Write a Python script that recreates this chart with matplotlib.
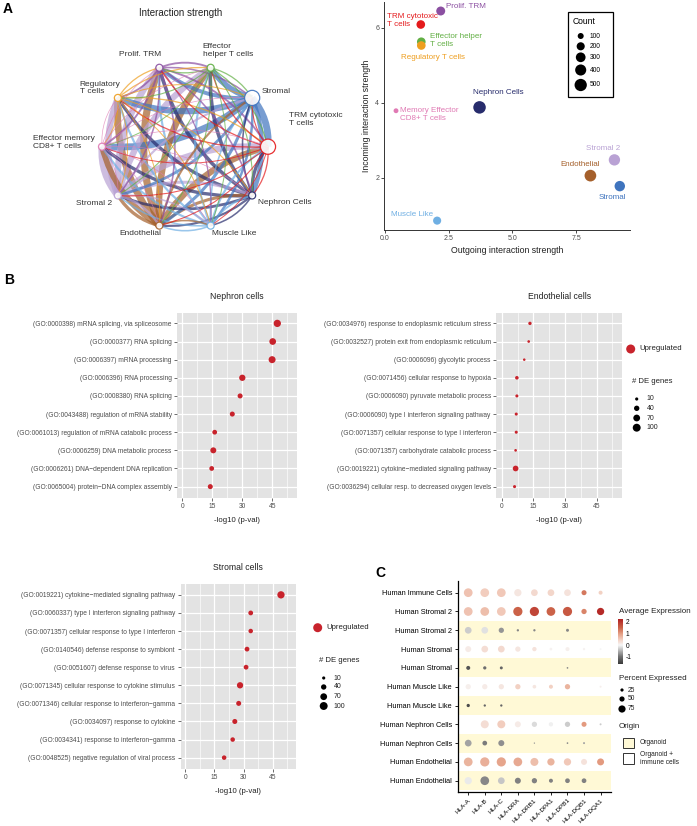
import numpy as np
import matplotlib.pyplot as plt
from matplotlib.path import Path
from matplotlib.patches import PathPatch, Circle, Rectangle
from matplotlib.colors import LinearSegmentedColormap, Normalize
from matplotlib.cm import ScalarMappable

plt.rcParams['font.family'] = ['Liberation Sans', 'DejaVu Sans']
plt.rcParams['axes.unicode_minus'] = False

W, H = 697, 826
fig = plt.figure(figsize=(W / 100, H / 100), dpi=100)


def px_axes(l, t, r, b):
    return fig.add_axes([l / W, 1 - b / H, (r - l) / W, (b - t) / H])


# -----------------------
# A) circle plot (CellChat-like), groups counter-clockwise from 3 o'clock
# -----------------------
circle_groups = ['TRM cytotoxic\nT cells', 'Stromal', 'Effector\nhelper T cells', 'Prolif. TRM',
                 'Regulatory\nT cells', 'Effector memory\nCD8+ T cells', 'Stromal 2',
                 'Endothelial', 'Muscle Like', 'Nephron Cells']
circle_colors = ['#E41A1C', '#3F74BE', '#62AF44', '#8B4FA1', '#EE9E1F',
                 '#E07AB4', '#B9A2D4', '#A5602B', '#6FAFE3', '#272C6C']
circle_size = [560, 560, 120, 120, 120, 120, 120, 120, 120, 120]
# interaction strength, row = sender, column = receiver
strength = [
    [0, .12, .15, .15, .15, .10, .12, .12, .10, .15],
    [1.1, 0, .90, .60, 1.0, 1.1, .40, .45, .35, .70],
    [.15, .15, 0, .15, .12, .10, .12, .12, .10, .12],
    [.25, .20, .25, 0, .25, .25, .20, .20, .15, .20],
    [.15, .12, .15, .15, 0, .12, .10, .10, .10, .12],
    [.05, .05, .05, .05, .05, 0, .05, .05, .05, .05],
    [1.0, .30, 1.0, 1.05, 1.0, 1.1, 0, .35, .20, .45],
    [1.0, .30, 1.05, 1.15, 1.1, .90, .50, 0, .20, .45],
    [.30, .20, .30, .30, .30, .30, .20, .20, 0, .25],
    [.50, .20, .55, .55, .50, .50, .40, .30, .20, 0],
]

# A) scatter: outgoing vs incoming strength
sc_names = ['Prolif. TRM', 'TRM cytotoxic\nT cells', 'Effector helper\nT cells', 'Regulatory T cells',
            'Nephron Cells', 'Memory Effector\nCD8+ T cells', 'Stromal 2', 'Endothelial', 'Stromal', 'Muscle Like']
sc_colors = ['#8B4FA1', '#E41A1C', '#62AF44', '#EE9E1F', '#272C6C',
             '#E07AB4', '#B9A2D4', '#A5602B', '#3F74BE', '#6FAFE3']
outgoing = [2.19, 1.41, 1.43, 1.43, 3.71, 0.44, 8.99, 8.05, 9.20, 2.05]
incoming = [6.45, 6.09, 5.63, 5.53, 3.88, 3.79, 2.48, 2.06, 1.78, 0.86]
count = [250, 230, 230, 230, 520, 60, 420, 450, 350, 200]
count_breaks = [100, 200, 300, 400, 500]

# B) GO enrichment
neph_terms = ['(GO:0000398) mRNA splicing, via spliceosome', '(GO:0000377) RNA splicing',
              '(GO:0006397) mRNA processing', '(GO:0006396) RNA processing', '(GO:0008380) RNA splicing',
              '(GO:0043488) regulation of mRNA stability', '(GO:0061013) regulation of mRNA catabolic process',
              '(GO:0006259) DNA metabolic process', '(GO:0006261) DNA\u2212dependent DNA replication',
              '(GO:0065004) protein\u2212DNA complex assembly']
neph_p = [47.5, 45.2, 44.9, 30.0, 28.9, 25.0, 16.2, 15.5, 14.7, 14.0]
neph_n = [83, 68, 75, 59, 34, 34, 30, 52, 30, 34]

endo_terms = ['(GO:0034976) response to endoplasmic reticulum stress',
              '(GO:0032527) protein exit from endoplasmic reticulum', '(GO:0006096) glycolytic process',
              '(GO:0071456) cellular response to hypoxia', '(GO:0006090) pyruvate metabolic process',
              '(GO:0006090) type I interferon signaling pathway', '(GO:0071357) cellular response to type I interferon',
              '(GO:0071357) carbohydrate catabolic process', '(GO:0019221) cytokine\u2212mediated signaling pathway',
              '(GO:0036294) cellular resp. to decreased oxygen levels']
endo_p = [13.4, 12.8, 10.7, 7.2, 7.2, 6.9, 6.9, 6.6, 6.6, 6.1]
endo_n = [12, 6, 5, 14, 9, 9, 9, 6, 46, 9]

strom_terms = ['(GO:0019221) cytokine\u2212mediated signaling pathway', '(GO:0060337) type I interferon signaling pathway',
               '(GO:0071357) cellular response to type I interferon', '(GO:0140546) defense response to symbiont',
               '(GO:0051607) defense response to virus', '(GO:0071345) cellular response to cytokine stimulus',
               '(GO:0071346) cellular response to interferon\u2212gamma', '(GO:0034097) response to cytokine',
               '(GO:0034341) response to interferon\u2212gamma', '(GO:0048525) negative regulation of viral process']
strom_p = [49.3, 33.7, 33.7, 31.8, 31.3, 28.2, 27.5, 25.5, 24.4, 20.0]
strom_n = [83, 30, 26, 30, 30, 59, 34, 34, 26, 26]
de_breaks = [10, 40, 70, 100]

# C) HLA dot plot
hla_genes = ['HLA-A', 'HLA-B', 'HLA-C', 'HLA-DRA', 'HLA-DRB1', 'HLA-DPA1', 'HLA-DPB1', 'HLA-DQB1', 'HLA-DQA1']
hla_rows = ['Human Immune Cells', 'Human Stromal 2', 'Human Stromal 2', 'Human Stromal', 'Human Stromal',
            'Human Muscle Like', 'Human Muscle Like', 'Human Nephron Cells', 'Human Nephron Cells',
            'Human Endothelial', 'Human Endothelial']
row_origin = ['immune', 'immune', 'organoid', 'immune', 'organoid', 'immune', 'organoid',
              'immune', 'organoid', 'immune', 'organoid']
nan = np.nan
avg_expr = np.array([
    [0.60, 0.50, 0.55, 0.20, 0.35, 0.40, 0.25, 1.30, 0.45],
    [0.60, 0.65, 0.55, 1.50, 1.80, 1.50, 1.60, 1.20, 2.10],
    [-0.30, -0.15, -0.70, -0.80, -0.80, nan, -0.80, nan, nan],
    [0.15, 0.30, 0.35, 0.20, 0.25, 0.05, 0.10, 0.05, 0.00],
    [-1.30, -1.00, -1.10, nan, nan, nan, -0.80, nan, nan],
    [0.10, 0.15, 0.20, 0.45, 0.20, 0.45, 0.75, nan, 0.10],
    [-1.40, -1.10, -1.10, nan, nan, nan, nan, nan, nan],
    [nan, 0.30, 0.50, 0.15, -0.20, -0.05, -0.30, 1.00, -0.30],
    [-0.60, -0.90, -0.75, nan, -0.70, nan, -0.80, -0.60, nan],
    [0.75, 0.80, 0.90, 0.85, 0.65, 0.75, 0.55, 0.25, 1.00],
    [-0.10, -0.80, -0.35, -0.85, -0.85, -0.85, -0.85, -0.85, nan],
])
pct_expr = np.array([
    [94, 94, 94, 76, 69, 69, 69, 48, 35],
    [94, 94, 94, 100, 100, 94, 100, 51, 76],
    [69, 69, 51, 14, 14, 0, 22, 0, 0],
    [60, 69, 69, 51, 39, 19, 35, 14, 10],
    [35, 26, 22, 0, 0, 0, 6, 0, 0],
    [51, 51, 51, 51, 31, 35, 51, 0, 10],
    [26, 14, 14, 0, 0, 0, 0, 0, 0],
    [0, 85, 85, 60, 51, 39, 51, 48, 10],
    [69, 44, 60, 0, 2, 0, 6, 10, 0],
    [94, 100, 100, 94, 85, 76, 76, 60, 72],
    [76, 94, 69, 60, 51, 35, 44, 44, 0],
])
pct_breaks = [25, 50, 75]

# overlay for letters / manual legends (pixel coordinates)
ov = fig.add_axes([0, 0, 1, 1], zorder=10)
ov.set_xlim(0, W)
ov.set_ylim(H, 0)
ov.axis('off')

for letter, x, y in [('A', 8, 9), ('B', 9, 280), ('C', 380, 573)]:
    ov.text(x, y, letter, fontsize=10, fontweight='bold', ha='center', va='center')

# -----------------------
# A left: circle network
# -----------------------
axn = px_axes(0, 20, 340, 260)
axn.set_xlim(0, 340)
axn.set_ylim(260, 20)
axn.axis('off')
cx, cy, R = 185, 146.7, 83
ang = np.deg2rad(np.arange(10) * 36)
nx = cx + R * np.cos(ang)
ny = cy - R * np.sin(ang)
S = np.array(strength)
edges = [(S[i, j], i, j) for i in range(10) for j in range(10) if S[i, j] > 0]
edges.sort(reverse=True)
for w, i, j in edges:
    p0 = np.array([nx[i], ny[i]])
    p1 = np.array([nx[j], ny[j]])
    d = p1 - p0
    ctrl = (p0 + p1) / 2 + 0.2 * np.array([d[1], -d[0]])
    path = Path([p0, ctrl, p1], [Path.MOVETO, Path.CURVE3, Path.CURVE3])
    axn.add_patch(PathPatch(path, facecolor='none', edgecolor=circle_colors[i],
                            lw=0.3 + 4.2 * w, alpha=0.7, capstyle='butt'))
for k in range(10):
    r = 0.32 * np.sqrt(circle_size[k])
    axn.add_patch(Circle((nx[k], ny[k]), r, facecolor='white', edgecolor=circle_colors[k],
                         lw=0.9, alpha=0.9, zorder=5))

lab_off = [(21, -27, 'left'), (9, -6, 'left'), (-8, -17, 'left'), (-19, -13, 'center'),
           (-38, -10, 'left'), (-69, -4, 'left'), (-6, 8, 'right'), (-19, 8, 'center'),
           (24, 8, 'center'), (6, 7, 'left')]
for k, (dx, dy, ha) in enumerate(lab_off):
    axn.text(nx[k] + dx, ny[k] + dy, circle_groups[k], fontsize=6, ha=ha, va='center',
             color='#333333', linespacing=1.15)
ov.text(181, 13, 'Interaction strength', fontsize=7, ha='center', va='center', color='#222222')

# -----------------------
# A right: scatter
# -----------------------
def count_size(n):
    d = 0.92 + 0.508 * np.sqrt(np.asarray(n, dtype=float))
    return (d * 0.72) ** 2


axs = px_axes(384, 2, 630, 230)
axs.scatter(outgoing, incoming, s=count_size(count), c=sc_colors, edgecolors='none', zorder=3)
axs.set_xlim(-0.03, 9.6)
axs.set_ylim(0.61, 6.69)
axs.set_xticks([0, 2.5, 5, 7.5], ['0.0', '2.5', '5.0', '7.5'])
axs.set_yticks([2, 4, 6])
for s in ['top', 'right']:
    axs.spines[s].set_visible(False)
for s in ['left', 'bottom']:
    axs.spines[s].set_linewidth(0.7)
    axs.spines[s].set_color('#333333')
axs.tick_params(length=2, width=0.5, labelsize=5, labelcolor='#4D4D4D', pad=1.5)
axs.set_xlabel('Outgoing interaction strength', fontsize=6.3, labelpad=3, color='#222222')
axs.set_ylabel('Incoming interaction strength', fontsize=6.3, labelpad=3, color='#222222')
sc_off = [(5.7, 5, 'left'), (-34, 4, 'left'), (8.7, 1.7, 'left'), (-20, -11.6, 'left'),
          (18.4, 14.6, 'center'), (4.4, -4, 'left'), (-11.3, 11.7, 'center'), (-10, 10.7, 'center'),
          (-7.6, -11, 'center'), (-25, 6.3, 'center')]
for k, (dx, dy, ha) in enumerate(sc_off):
    axs.annotate(sc_names[k], (outgoing[k], incoming[k]), xytext=(dx, dy), textcoords='offset pixels',
                 fontsize=5.8, color=sc_colors[k], ha=ha, va='center', linespacing=1.2)

# Count legend
ov.add_patch(Rectangle((568, 12), 45, 85, facecolor='white', edgecolor='black', lw=0.9))
ov.text(573, 21.7, 'Count', fontsize=6.2, va='center')
for b, y in zip(count_breaks, [36, 46.3, 57.3, 70, 85]):
    ov.scatter([580.7], [y], s=count_size(b), color='black', edgecolors='none')
    ov.text(590, y, str(b), fontsize=4.8, va='center')

# -----------------------
# B: GO dot plots
# -----------------------
def de_size(n):
    d = 0.7 + 0.5 * np.sqrt(np.asarray(n, dtype=float))
    return d ** 2


def go_panel(box, title, terms, pval, ngenes):
    l, t, r, b = box
    ax = px_axes(l, t, r, b)
    ax.set_facecolor('#E3E3E3')
    y = np.arange(len(terms))
    ax.scatter(pval, y, s=de_size(ngenes), color='#C8232C', edgecolors='none', zorder=3)
    ax.set_yticks(y, terms)
    ax.set_ylim(len(terms) - 0.4, -0.6)
    ax.set_xlim(-2.5, 57.2)
    ax.set_xticks([0, 15, 30, 45])
    ax.set_xticks([7.5, 22.5, 37.5, 52.5], minor=True)
    ax.grid(True, which='major', color='white', lw=0.9)
    ax.grid(True, which='minor', axis='x', color='white', lw=0.45)
    ax.set_axisbelow(True)
    for s in ax.spines.values():
        s.set_visible(False)
    ax.tick_params(which='minor', length=0)
    ax.tick_params(length=2, width=0.5, color='#333333', labelsize=4.8, labelcolor='#4D4D4D', pad=2)
    ov.text((l + r) / 2, t - 16, title, fontsize=6.2, ha='center', va='center', color='#222222')
    ov.text((l + r) / 2, b + 23, '-log10 (p-val)', fontsize=5.6, ha='center', va='center', color='#222222')
    return ax


go_panel((177.3, 312.5, 296.7, 497.5), 'Nephron cells', neph_terms, neph_p, neph_n)
go_panel((496.4, 312.5, 622.4, 497.5), 'Endothelial cells', endo_terms, endo_p, endo_n)
go_panel((180.5, 584, 296.3, 768.5), 'Stromal cells', strom_terms, strom_p, strom_n)


def go_legend(x0, y_up, y_title, y_items):
    ov.scatter([x0], [y_up], s=(9 * 0.72) ** 2, color='#C8232C', edgecolors='none')
    ov.text(x0 + 8.5, y_up, 'Upregulated', fontsize=5.6, va='center', color='#222222')
    ov.text(x0 + 1, y_title, '# DE genes', fontsize=5.6, va='center', color='#222222')
    for b, y in zip(de_breaks, y_items):
        ov.scatter([x0 + 6], [y], s=de_size(b), color='black', edgecolors='none')
        ov.text(x0 + 16, y, str(b), fontsize=5, va='center', color='#222222')


go_legend(630.7, 349, 381.7, [399, 408.3, 418, 427.7])
go_legend(317.7, 627.7, 660, [678, 687, 696.7, 706])

# -----------------------
# C: HLA dot plot
# -----------------------
stops = [-1.6, -1.0, -0.5, 0.0, 0.5, 1.0, 1.5, 2.2]
stop_cols = ['#3A3A3A', '#6E6E6E', '#B0B0B0', '#F7F7F7', '#F2CDBE', '#E39B80', '#CB6248', '#B22222']
cmap = LinearSegmentedColormap.from_list(
    'expr', [((v - stops[0]) / (stops[-1] - stops[0]), c) for v, c in zip(stops, stop_cols)])
norm = Normalize(stops[0], stops[-1])


def pct_size(p):
    d = 1.2 + 0.08 * np.asarray(p, dtype=float)
    return (d * 0.72) ** 2


axc = px_axes(458.3, 581.4, 610.5, 792)
for k, o in enumerate(row_origin):
    if o == 'organoid':
        axc.axhspan(k - 0.5, k + 0.5, color='#FFF9D6', lw=0, zorder=0)
gx, gy = np.meshgrid(np.arange(len(hla_genes)), np.arange(len(hla_rows)))
m = pct_expr > 0
axc.scatter(gx[m], gy[m], s=pct_size(pct_expr[m]), c=avg_expr[m], cmap=cmap, norm=norm,
            edgecolors='none', zorder=3)
axc.set_xlim(-0.6, len(hla_genes) - 0.4)
axc.set_ylim(len(hla_rows) - 0.4, -0.6)
axc.set_xticks(range(len(hla_genes)))
axc.set_xticklabels(hla_genes, rotation=45, ha='right', rotation_mode='anchor', fontsize=4.6)
axc.set_yticks(range(len(hla_rows)), hla_rows)
for s in ['top', 'right']:
    axc.spines[s].set_visible(False)
for s in ['left', 'bottom']:
    axc.spines[s].set_linewidth(0.9)
axc.tick_params(axis='y', length=2.5, width=0.6, labelsize=5.3, pad=2)
axc.tick_params(axis='x', length=2.5, width=0.6, pad=1.5)

ov.text(619, 611.7, 'Average Expression', fontsize=5.8, va='center', color='#222222')
axcb = px_axes(618, 619.3, 622.8, 664)
cb = fig.colorbar(ScalarMappable(norm=norm, cmap=cmap), cax=axcb, ticks=[-1, 0, 1, 2])
cb.outline.set_visible(False)
axcb.tick_params(length=0, labelsize=4.8, pad=2)
ov.text(619, 678.7, 'Percent Expressed', fontsize=5.8, va='center', color='#222222')
for b, y in zip(pct_breaks, [690, 699, 709]):
    ov.scatter([622], [y], s=pct_size(b), color='black', edgecolors='none')
    ov.text(627.7, y, str(b), fontsize=4.8, va='center', color='#222222')
ov.text(619, 726.7, 'Origin', fontsize=5.8, va='center', color='#222222')
ov.add_patch(Rectangle((622.7, 737.7), 11.3, 10.6, facecolor='#FFF9D6', edgecolor='#333333', lw=0.7))
ov.text(640, 743, 'Organoid', fontsize=4.8, va='center', color='#222222')
ov.add_patch(Rectangle((622.7, 753.3), 11.3, 10.6, facecolor='white', edgecolor='#333333', lw=0.7))
ov.text(640, 758.6, 'Organoid +\nimmune cells', fontsize=4.8, va='center', color='#222222', linespacing=1.1)

fig.savefig('out.png', dpi=100)
